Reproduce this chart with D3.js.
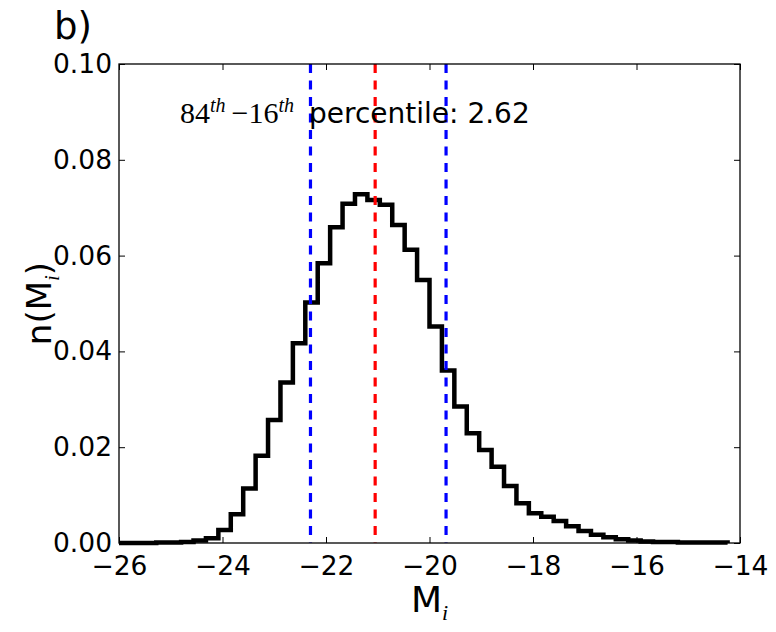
<!DOCTYPE html>
<html>
<head>
<meta charset="utf-8">
<script src="https://cdn.jsdelivr.net/npm/d3@7.9.0/dist/d3.min.js"></script>
<style>
  body { margin: 0; background: #fff; }
  svg { display: block; font-family: "DejaVu Sans", sans-serif; }
</style>
</head>
<body>
<div id="chart"></div>
<script>
// Histogram of M_i (fraction per bin), bins start at -26, width 0.24
const binStart = -26;
const binWidth = 0.24;
const fractions = [
  0.0000, 0.0000, 0.0000, 0.0001, 0.0001, 0.0002, 0.0005, 0.0010, 0.0027, 0.0060,
  0.0114, 0.0182, 0.0257, 0.0335, 0.0417, 0.0502, 0.0584, 0.0659, 0.0708, 0.0728,
  0.0716, 0.0706, 0.0664, 0.0612, 0.0549, 0.0452, 0.0360, 0.0285, 0.0229, 0.0194,
  0.0159, 0.0119, 0.0083, 0.0062, 0.0055, 0.0046, 0.0035, 0.0025, 0.0017, 0.0012,
  0.0008, 0.0005, 0.0003, 0.0002, 0.0002, 0.0001, 0.0001, 0.0001, 0.0001
];

// percentile lines
const p16 = -22.30;
const p50 = -21.05;
const p84 = -19.68;
const spreadLabel = "2.62";

const xTicks = [-26, -24, -22, -20, -18, -16, -14];
const yTicks = [0.00, 0.02, 0.04, 0.06, 0.08, 0.10];

const W = 776, H = 632;
const margin = { top: 64, right: 36, bottom: 89, left: 119 };
const width = W - margin.left - margin.right;
const height = H - margin.top - margin.bottom;

const svg = d3.select("#chart").append("svg")
  .attr("width", W)
  .attr("height", H);

const g = svg.append("g")
  .attr("transform", `translate(${margin.left},${margin.top})`);

const x = d3.scaleLinear().domain([-26, -14]).range([0, width]);
const y = d3.scaleLinear().domain([0, 0.10]).range([height, 0]);

// step outline
const edges = fractions.map((d, i) => binStart + i * binWidth);
const lastEdge = binStart + fractions.length * binWidth;
const pts = [[edges[0], 0]]
  .concat(fractions.map((v, i) => [edges[i], v]))
  .concat([[lastEdge, fractions[fractions.length - 1]], [lastEdge, 0]]);

const line = d3.line()
  .x(d => x(d[0]))
  .y(d => y(d[1]))
  .curve(d3.curveStepAfter);

g.append("path")
  .datum(pts)
  .attr("fill", "none")
  .attr("stroke", "#000")
  .attr("stroke-width", 4.5)
  .attr("stroke-linejoin", "miter")
  .attr("d", line);

// percentile lines
const vlines = [
  { v: p16, c: "#0000ff" },
  { v: p50, c: "#ff0000" },
  { v: p84, c: "#0000ff" }
];
g.selectAll(".pline")
  .data(vlines)
  .join("line")
  .attr("class", "pline")
  .attr("x1", d => x(d.v))
  .attr("x2", d => x(d.v))
  .attr("y1", 0)
  .attr("y2", height)
  .attr("stroke", d => d.c)
  .attr("stroke-width", 3.2)
  .attr("stroke-dasharray", "9,7.5");

// axes: ticks inward on all four sides
const tickLen = 6;
const fmtY = d3.format(".2f");
const fmtX = d => d3.format("d")(d).replace("-", "\u2212");

const axBottom = g.append("g")
  .attr("transform", `translate(0,${height})`)
  .call(d3.axisBottom(x).tickValues(xTicks).tickSizeInner(-tickLen).tickSizeOuter(0).tickPadding(13).tickFormat(fmtX));
const axTop = g.append("g")
  .call(d3.axisTop(x).tickValues(xTicks).tickSizeInner(-tickLen).tickSizeOuter(0).tickFormat(""));
const axLeft = g.append("g")
  .call(d3.axisLeft(y).tickValues(yTicks).tickSizeInner(-tickLen).tickSizeOuter(0).tickPadding(7).tickFormat(fmtY));
const axRight = g.append("g")
  .attr("transform", `translate(${width},0)`)
  .call(d3.axisRight(y).tickValues(yTicks).tickSizeInner(-tickLen).tickSizeOuter(0).tickFormat(""));

[axBottom, axTop, axLeft, axRight].forEach(a => {
  a.select(".domain").remove();
  a.selectAll("line").attr("stroke", "#000").attr("stroke-width", 1);
  a.selectAll("text")
    .attr("fill", "#000")
    .style("font-family", "'DejaVu Sans', sans-serif")
    .style("font-size", "26.5px");
});

// frame
g.append("rect")
  .attr("width", width)
  .attr("height", height)
  .attr("fill", "none")
  .attr("stroke", "#000")
  .attr("stroke-width", 1.3);

// panel label
svg.append("text")
  .attr("x", 54)
  .attr("y", 39)
  .style("font-size", "37px")
  .text("b)");

// x label
const xl = svg.append("text")
  .attr("x", margin.left + width / 2)
  .attr("y", 612)
  .attr("text-anchor", "middle")
  .style("font-size", "36px");
xl.append("tspan").text("M");
xl.append("tspan").attr("dy", 8).style("font-size", "22px").style("font-style", "italic")
  .style("font-family", "'Liberation Serif', serif").text("i");

// y label
const yl = svg.append("text")
  .attr("transform", `translate(51,${margin.top + height / 2}) rotate(-90)`)
  .attr("text-anchor", "middle")
  .style("font-size", "34px");
yl.append("tspan").text("n(M");
yl.append("tspan").attr("dy", 8).style("font-size", "21px").style("font-style", "italic")
  .style("font-family", "'Liberation Serif', serif").text("i");
yl.append("tspan").attr("dy", -8).text(")");

// annotation
const ann = svg.append("text")
  .attr("x", 180)
  .attr("y", 123)
  .style("font-size", "30px")
  .style("font-family", "'Liberation Serif', serif");
ann.append("tspan").text("84");
ann.append("tspan").attr("dy", -11).style("font-size", "20px").style("font-style", "italic").text("th");
ann.append("tspan").attr("dy", 11).attr("dx", 6).text("\u2212" + "16");
ann.append("tspan").attr("dy", -11).style("font-size", "20px").style("font-style", "italic").text("th");
ann.append("tspan").attr("dy", 11).attr("dx", 15)
  .style("font-family", "'DejaVu Sans', sans-serif").style("font-size", "28px")
  .text("percentile: " + spreadLabel);
</script>
</body>
</html>
